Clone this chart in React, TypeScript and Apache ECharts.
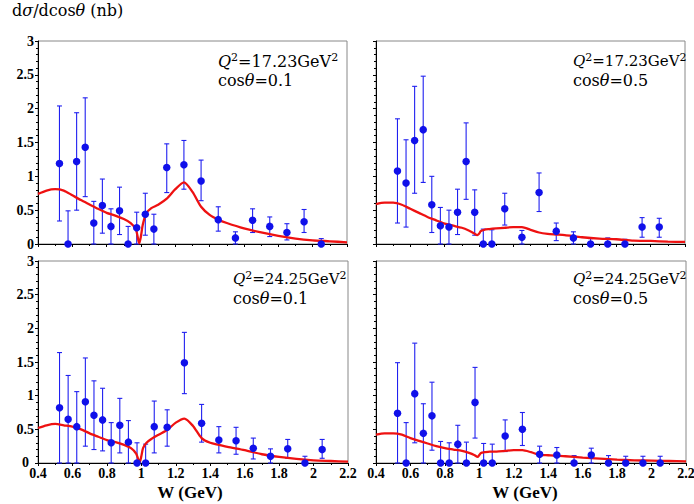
import React, { useEffect, useRef } from "react";
import * as echarts from "echarts";

// W values of the measured points (GeV)
const wPoints = [0.525, 0.575, 0.625, 0.675, 0.725, 0.775, 0.825, 0.875, 0.925, 0.975, 1.025, 1.075, 1.15, 1.25, 1.35, 1.45, 1.55, 1.65, 1.75, 1.85, 1.95, 2.05];

// Panel 1: Q2=17.23, cos=0.1
const p1Y = [1.19, 0, 1.22, 1.43, 0.31, 0.57, 0.26, 0.49, 0, 0.24, 0.44, 0.22, 1.13, 1.17, 0.93, 0.36, 0.09, 0.35, 0.26, 0.17, 0.33, 0];
const p1Hi = [2.04, 0.49, 1.94, 2.16, 0.63, 0.96, 0.52, 0.84, 0.26, 0.47, 0.75, 0.44, 1.48, 1.53, 1.24, 0.55, 0.18, 0.52, 0.4, 0.3, 0.51, 0.08];
const p1Lo = [0.34, 0, 0.5, 0.7, 0, 0.16, 0, 0.14, 0, 0, 0.13, 0, 0.76, 0.81, 0.64, 0.19, 0, 0.17, 0.11, 0.06, 0.17, 0];

// Panel 2: Q2=17.23, cos=0.5
const p2Y = [1.08, 0.9, 1.53, 1.69, 0.58, 0.27, 0.25, 0.47, 1.22, 0.47, 0, 0, 0.52, 0.1, 0.76, 0.19, 0.09, 0, 0, 0, 0.25, 0.25];
const p2Hi = [1.85, 1.54, 2.33, 2.48, 1.0, 0.54, 0.5, 0.81, 1.79, 0.8, 0.22, 0.21, 0.75, 0.2, 1.05, 0.31, 0.18, 0.08, 0.09, 0.07, 0.39, 0.38];
const p2Lo = [0.31, 0.25, 0.75, 0.91, 0.17, 0, 0, 0.14, 0.66, 0.13, 0, 0, 0.28, 0, 0.48, 0.05, 0, 0, 0, 0, 0.1, 0.1];

// Panel 3: Q2=24.25, cos=0.1
const p3Y = [0.82, 0.65, 0.54, 0.91, 0.71, 0.64, 0.3, 0.56, 0.31, 0, 0, 0.54, 0.53, 1.49, 0.59, 0.34, 0.33, 0.22, 0.1, 0.21, 0, 0.2];
const p3Hi = [1.64, 1.3, 1.06, 1.56, 1.22, 1.11, 0.6, 0.96, 0.63, 0.3, 0.28, 0.92, 0.79, 1.94, 0.87, 0.54, 0.53, 0.37, 0.21, 0.35, 0.1, 0.35];
const p3Lo = [0, 0, 0, 0.25, 0.2, 0.18, 0, 0.15, 0, 0, 0, 0.15, 0.25, 1.03, 0.31, 0.15, 0.13, 0.06, 0, 0.07, 0, 0.07];

// Panel 4: Q2=24.25, cos=0.5
const p4Y = [0.74, 0, 1.03, 0.44, 0.7, 0, 0, 0.28, 0, 0.9, 0, 0, 0.4, 0.5, 0.13, 0.12, 0, 0.12, 0, 0, 0, 0];
const p4Hi = [1.49, 0.6, 1.78, 0.88, 1.2, 0.32, 0.3, 0.56, 0.31, 1.42, 0.29, 0.28, 0.64, 0.75, 0.25, 0.23, 0.11, 0.22, 0.11, 0.1, 0.1, 0.1];
const p4Lo = [0, 0, 0.3, 0, 0.19, 0, 0, 0, 0, 0.37, 0, 0, 0.17, 0.26, 0, 0, 0, 0, 0, 0, 0, 0];

// Model curves
const curveW = [0.4, 0.45, 0.5, 0.55, 0.6, 0.65, 0.7, 0.75, 0.8, 0.85, 0.9, 0.94, 0.97, 0.99, 1.0, 1.01, 1.03, 1.06, 1.1, 1.15, 1.2, 1.25, 1.3, 1.35, 1.4, 1.45, 1.5, 1.6, 1.7, 1.8, 1.9, 2.0, 2.1, 2.2];
const c1 = [0.74, 0.79, 0.81, 0.79, 0.72, 0.65, 0.585, 0.52, 0.46, 0.42, 0.37, 0.31, 0.22, 0.01, 0.12, 0.28, 0.45, 0.53, 0.58, 0.67, 0.81, 0.91, 0.77, 0.55, 0.43, 0.36, 0.31, 0.23, 0.17, 0.12, 0.08, 0.054, 0.04, 0.025];
const c2 = [0.59, 0.61, 0.61, 0.58, 0.52, 0.46, 0.4, 0.35, 0.3, 0.27, 0.24, 0.2, 0.16, 0.13, 0.15, 0.19, 0.21, 0.22, 0.23, 0.24, 0.25, 0.25, 0.21, 0.17, 0.15, 0.14, 0.13, 0.1, 0.08, 0.07, 0.05, 0.045, 0.035, 0.03];
const c3 = [0.52, 0.56, 0.58, 0.56, 0.54, 0.5, 0.44, 0.39, 0.34, 0.31, 0.27, 0.22, 0.14, 0.01, 0.1, 0.22, 0.3, 0.36, 0.42, 0.49, 0.6, 0.66, 0.55, 0.37, 0.3, 0.27, 0.24, 0.19, 0.13, 0.09, 0.06, 0.04, 0.03, 0.02];
const c4 = [0.42, 0.44, 0.44, 0.42, 0.37, 0.33, 0.29, 0.25, 0.22, 0.2, 0.18, 0.15, 0.12, 0.09, 0.12, 0.15, 0.16, 0.17, 0.17, 0.18, 0.19, 0.19, 0.16, 0.12, 0.115, 0.11, 0.1, 0.08, 0.065, 0.05, 0.04, 0.035, 0.03, 0.025];

const qLabels = ["17.23", "17.23", "24.25", "24.25"];
const cosLabels = ["0.1", "0.5", "0.1", "0.5"];

const panels = [
  { y: p1Y, lo: p1Lo, hi: p1Hi, curve: c1 },
  { y: p2Y, lo: p2Lo, hi: p2Hi, curve: c2 },
  { y: p3Y, lo: p3Lo, hi: p3Hi, curve: c3 },
  { y: p4Y, lo: p4Lo, hi: p4Hi, curve: c4 },
];

const gridLayout = [
  { left: 38, top: 41, width: 309, height: 203 },
  { left: 376, top: 41, width: 309, height: 203 },
  { left: 38, top: 261, width: 310, height: 202 },
  { left: 376, top: 261, width: 310, height: 202 },
];
const annotPos = [
  [218, 52],
  [573, 52],
  [233, 270],
  [573, 270],
];

const SERIF = "'DejaVu Serif', serif";
const TICK = "'Liberation Serif', 'Times New Roman', serif";
const BLUE = "#1010ea";
const BAR = "#2020f0";
const RED = "#ee1111";

export default function App() {
  const ref = useRef<HTMLDivElement>(null);
  useEffect(() => {
    const chart = echarts.init(ref.current!, null, { renderer: "svg" });

    const grids = gridLayout.map((g) => ({
      ...g,
      show: true,
      borderColor: "#888",
      borderWidth: 1,
      containLabel: false,
      outerBoundsMode: "none",
    }));

    const xAxes = gridLayout.map((_, i) => ({
      type: "value",
      gridIndex: i,
      min: 0.4,
      max: 2.2,
      interval: 0.2,
      axisLine: { show: true, onZero: false, lineStyle: { color: "#000", width: 1 } },
      axisTick: { show: true, inside: false, length: 3, lineStyle: { color: "#000" } },
      minorTick: { show: true, splitNumber: 2, length: 2, lineStyle: { color: "#000" } },
      splitLine: { show: false },
      axisLabel: {
        show: i >= 2,
        color: "#000",
        fontFamily: TICK,
        fontWeight: "bold",
        fontSize: 14,
        lineHeight: 10,
        margin: 5,
      },
    }));

    const yAxes = gridLayout.map((_, i) => ({
      type: "value",
      gridIndex: i,
      min: 0,
      max: 3,
      interval: 0.5,
      axisLine: { show: true, onZero: false, lineStyle: { color: "#000", width: 1 } },
      axisTick: { show: true, inside: false, length: 3, lineStyle: { color: "#000" } },
      minorTick: { show: true, splitNumber: 5, length: 2, lineStyle: { color: "#000" } },
      splitLine: { show: false },
      axisLabel: {
        show: i % 2 === 0,
        color: "#000",
        fontFamily: TICK,
        fontWeight: "bold",
        fontSize: 14,
        lineHeight: 10,
        margin: 4,
        formatter: (v: number) => (i === 2 && v === 0 ? "{z|0}" : String(v)),
        rich: {
          z: {
            fontFamily: TICK,
            fontWeight: "bold",
            fontSize: 14,
            lineHeight: 10,
            color: "#000",
            padding: [0, 5, 2, 0],
          },
        },
      },
    }));

    const series: any[] = [];
    panels.forEach((p, i) => {
      series.push({
        type: "custom",
        xAxisIndex: i,
        yAxisIndex: i,
        z: 2,
        clip: false,
        data: wPoints.map((w, k) => [w, p.lo[k], p.hi[k]]),
        encode: { x: 0, y: [1, 2] },
        renderItem: (params: any, api: any) => {
          const x = api.value(0);
          const lo = api.coord([x, api.value(1)]);
          const hi = api.coord([x, api.value(2)]);
          const cap = 2.5;
          const st = { stroke: BAR, lineWidth: 1.1 };
          return {
            type: "group",
            children: [
              { type: "line", shape: { x1: lo[0], y1: lo[1], x2: hi[0], y2: hi[1] }, style: st },
              { type: "line", shape: { x1: hi[0] - cap, y1: hi[1], x2: hi[0] + cap, y2: hi[1] }, style: st },
              { type: "line", shape: { x1: lo[0] - cap, y1: lo[1], x2: lo[0] + cap, y2: lo[1] }, style: st },
            ],
          };
        },
      });
      series.push({
        type: "line",
        xAxisIndex: i,
        yAxisIndex: i,
        z: 3,
        showSymbol: false,
        smooth: 0.25,
        data: curveW.map((w, k) => [w, p.curve[k]]),
        lineStyle: { color: RED, width: 2.3 },
      });
      series.push({
        type: "scatter",
        xAxisIndex: i,
        yAxisIndex: i,
        z: 4,
        symbol: "circle",
        symbolSize: 7.5,
        data: wPoints.map((w, k) => [w, p.y[k]]),
        itemStyle: { color: BLUE, opacity: 1 },
      });
    });

    const rich = (qSize: number) => ({
      i: { fontFamily: SERIF, fontStyle: "italic", fontSize: qSize, lineHeight: 18, fill: "#000" },
      n: { fontFamily: SERIF, fontSize: qSize, lineHeight: 18, fill: "#000" },
      s: { fontFamily: SERIF, fontSize: 11, lineHeight: 12, verticalAlign: "top", fill: "#000" },
      c: { fontFamily: SERIF, fontSize: 16, lineHeight: 20, fill: "#000" },
      ci: { fontFamily: SERIF, fontStyle: "italic", fontSize: 16, lineHeight: 20, fill: "#000" },
    });

    const graphics: any[] = [
      {
        type: "text",
        x: 12,
        y: 1,
        style: {
          text: "{n|d}{g|σ}{n|/dcos}{g|θ}{n| (nb)}",
          align: "left",
          verticalAlign: "top",
          rich: {
            n: { fontFamily: SERIF, fontSize: 16, lineHeight: 18, fill: "#000" },
            g: { fontFamily: SERIF, fontStyle: "italic", fontSize: 16, lineHeight: 18, fill: "#000" },
          },
        },
      },
      {
        type: "text",
        x: 190,
        y: 492,
        style: { text: "W (GeV)", font: `bold 17px ${TICK}`, fill: "#000", align: "center", verticalAlign: "middle" },
      },
      {
        type: "text",
        x: 525,
        y: 492,
        style: { text: "W (GeV)", font: `bold 17px ${TICK}`, fill: "#000", align: "center", verticalAlign: "middle" },
      },
    ];
    annotPos.forEach((pos, i) => {
      graphics.push({
        type: "text",
        x: pos[0],
        y: pos[1],
        z: 10,
        style: {
          text: `{i|Q}{s|2}{n|=${qLabels[i]}GeV}{s|2}\n{c|cos}{ci|θ}{c|=${cosLabels[i]}}`,
          align: "left",
          verticalAlign: "top",
          rich: rich(i === 0 ? 16 : 15),
        },
      });
    });

    chart.setOption({
      animation: false,
      backgroundColor: "#fff",
      grid: grids,
      xAxis: xAxes,
      yAxis: yAxes,
      series,
      graphic: graphics,
    });
    return () => chart.dispose();
  }, []);
  return (
    <div
      ref={ref}
      style={{ position: "fixed", left: 0, top: 0, width: 694, height: 504, background: "#fff" }}
    />
  );
}
